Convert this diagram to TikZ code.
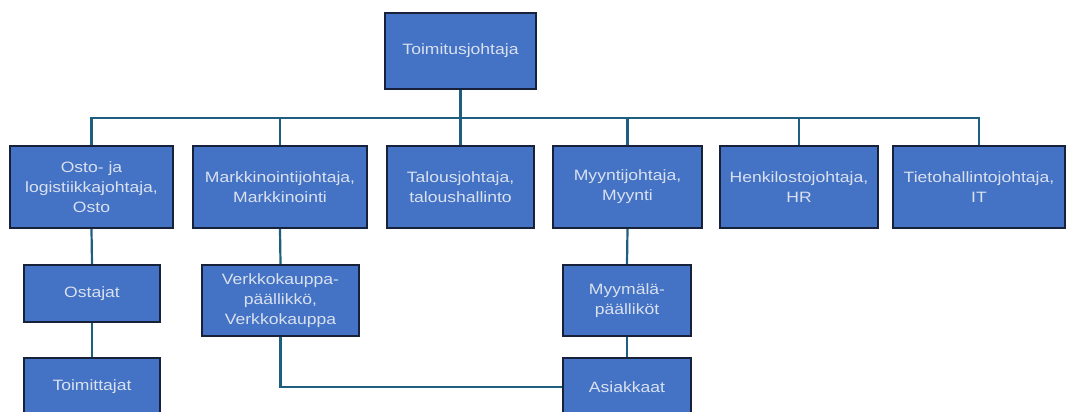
\documentclass[tikz,border=0pt]{standalone}
\usepackage{fontspec}
\setmainfont{Liberation Sans}[FakeStretch=1.17]
\definecolor{boxfill}{HTML}{4472C4}
\definecolor{boxline}{HTML}{17213A}
\definecolor{linkc}{HTML}{1E5F80}
\definecolor{txt}{HTML}{D9E1EF}
\begin{document}
\begin{tikzpicture}[x=1pt,y=-1pt,
  org/.style={draw=boxline,line width=2.4pt,fill=boxfill,text=txt,
    font=\fontsize{15}{20}\selectfont,align=center,inner sep=0pt},
  link/.style={draw=linkc,line width=2.2pt}]
\useasboundingbox (0,0) rectangle (1068,412);
\coordinate (bus) at (460.5,118);
\node[org,minimum width=151,minimum height=76] (ceo) at (460.5,51) {Toimitusjohtaja};
\node[org,minimum width=163,minimum height=82] (osto) at (91.5,187) {Osto- ja\\logistiikkajohtaja,\\Osto};
\node[org,minimum width=174,minimum height=82] (mark) at (280,187) {Markkinointijohtaja,\\Markkinointi};
\node[org,minimum width=147,minimum height=82] (talo) at (460.5,187) {Talousjohtaja,\\taloushallinto};
\node[org,minimum width=149,minimum height=82] (myy) at (627.5,187) {Myyntijohtaja,\\Myynti};
\node[org,minimum width=158,minimum height=82] (hr) at (799,187) {Henkilostojohtaja,\\HR};
\node[org,minimum width=172,minimum height=82] (it) at (979,187) {Tietohallintojohtaja,\\IT};
\node[org,minimum width=136,minimum height=57] (ost) at (92,293.5) {Ostajat};
\node[org,minimum width=136,minimum height=57] (toim) at (92,386.5) {Toimittajat};
\node[org,minimum width=157,minimum height=71] (verk) at (280.5,300.5) {Verkkokauppa-\\päällikkö,\\Verkkokauppa};
\node[org,minimum width=128,minimum height=71] (myym) at (627,300.5) {Myymälä-\\päälliköt};
\node[org,minimum width=128,minimum height=58] (asi) at (627,387) {Asiakkaat};
\draw[link] (ceo.south) -- (bus);
\foreach \n in {osto,mark,talo,myy,hr,it}
  \draw[link] (\n.north) |- (bus);
\draw[link] (osto.south) -- (ost.north);
\draw[link] (ost.south) -- (toim.north);
\draw[link] (mark.south) -- (verk.north);
\draw[link] (myy.south) -- (myym.north);
\draw[link] (myym.south) -- (asi.north);
\draw[link] (verk.south) |- (asi.west);
\end{tikzpicture}
\end{document}
